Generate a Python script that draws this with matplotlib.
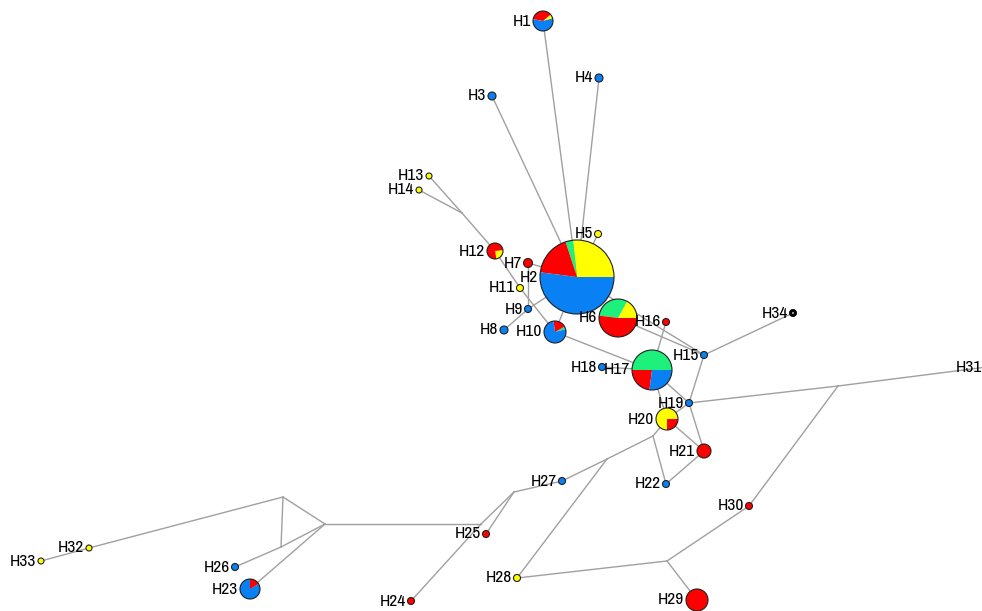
#!/usr/bin/env python
"""
median-joining haplotype network: pie nodes sized by haplotype count,
coloured by population, grey links through median vectors
"""

import matplotlib
matplotlib.use("Agg")
import matplotlib.pyplot as plt
from matplotlib.patches import Circle, Wedge

# haplotype nodes (pixel-style layout, y grows downwards)
names = ["H1", "H2", "H3", "H4", "H5", "H6", "H7", "H8", "H9", "H10",
         "H11", "H12", "H13", "H14", "H15", "H16", "H17", "H18", "H19", "H20",
         "H21", "H22", "H23", "H24", "H25", "H26", "H27", "H28", "H29", "H30",
         "H31", "H32", "H33", "H34"]
node_x = [543, 577, 492, 599, 598, 618, 528, 504, 528, 555,
          520, 495, 429, 419, 704, 666, 652, 602, 689, 667,
          704, 666, 250, 411, 486, 235, 562, 517, 697, 749,
          987, 89, 41, 793]
node_y = [21, 277, 96, 78, 234, 318, 263, 330, 309, 332,
          288, 251, 176, 190, 355, 322, 370, 367, 403, 419,
          451, 484, 589, 601, 534, 567, 481, 578, 600, 506,
          367, 548, 561, 313]
node_r = [10, 37, 4, 4, 3.5, 19, 4.5, 4, 3.5, 11,
          3.5, 8, 3, 3, 3.5, 3.5, 20, 3.5, 3.5, 11,
          7, 3.5, 10, 3.5, 3.5, 3.5, 3.5, 3.5, 11, 3.5,
          3, 3, 3, 3.5]

# population shares per node, in the order yellow, green, red, blue
pop_colors = ["#ffff00", "#1ef07c", "#ff0000", "#0a80f5"]
shares = [
    [0.07, 0, 0.36, 0.57],        # H1
    [0.267, 0.033, 0.18, 0.52],   # H2
    [0, 0, 0, 1],                 # H3
    [0, 0, 0, 1],                 # H4
    [1, 0, 0, 0],                 # H5
    [0.17, 0.31, 0.52, 0],        # H6
    [0, 0, 1, 0],                 # H7
    [0, 0, 0, 1],                 # H8
    [0, 0, 0, 1],                 # H9
    [0, 0.04, 0.19, 0.77],        # H10
    [1, 0, 0, 0],                 # H11
    [0.24, 0, 0.76, 0],           # H12
    [1, 0, 0, 0],                 # H13
    [1, 0, 0, 0],                 # H14
    [0, 0, 0, 1],                 # H15
    [0, 0, 1, 0],                 # H16
    [0, 0.5, 0.23, 0.27],         # H17
    [0, 0, 0, 1],                 # H18
    [0, 0, 0, 1],                 # H19
    [0.75, 0, 0.25, 0],           # H20
    [0, 0, 1, 0],                 # H21
    [0, 0, 0, 1],                 # H22
    [0, 0, 0.167, 0.833],         # H23
    [0, 0, 1, 0],                 # H24
    [0, 0, 1, 0],                 # H25
    [0, 0, 0, 1],                 # H26
    [0, 0, 0, 1],                 # H27
    [1, 0, 0, 0],                 # H28
    [0, 0, 1, 0],                 # H29
    [0, 0, 1, 0],                 # H30
    [0, 0, 0, 1],                 # H31
    [1, 0, 0, 0],                 # H32
    [1, 0, 0, 0],                 # H33
    [0, 0, 0, 0],                 # H34 (no sample, drawn hollow)
]
# angle (degrees, counter-clockwise on screen) where the first slice starts
start_angle = {"H1": 15, "H10": 15, "H12": -80, "H23": 30}

# median vectors
mv_names = ["mv1", "mva", "mvb", "mvc", "mvd", "mve", "mvf", "mvg", "mvh", "mvi"]
mv_x = [462, 283, 325, 281, 481, 514, 607, 667, 838, 653]
mv_y = [213, 497, 524, 547, 524, 492, 459, 561, 386, 436]

links = [
    ("H1", "H2"), ("H3", "H2"), ("H4", "H2"), ("H5", "H2"), ("H7", "H2"),
    ("H9", "H2"), ("H7", "H9"), ("H8", "H9"), ("H2", "H10"), ("H2", "H15"),
    ("H6", "H15"), ("H16", "H17"), ("H13", "mv1"), ("H14", "mv1"),
    ("mv1", "H12"), ("H12", "H11"), ("H11", "H10"), ("H10", "H17"), ("H18", "H17"),
    ("H17", "H19"), ("H17", "H20"), ("H15", "H19"), ("H15", "H34"), ("H19", "H20"),
    ("H19", "H21"), ("H20", "H21"), ("H21", "H22"), ("mvi", "H20"), ("mvi", "H22"),
    ("mvi", "mvf"), ("mvf", "H27"), ("mvf", "H28"), ("H27", "mve"), ("mve", "H25"),
    ("mve", "mvd"), ("mvd", "H24"), ("mvd", "mvb"), ("mvb", "mva"), ("mvb", "mvc"),
    ("mvb", "H23"), ("mva", "mvc"), ("mva", "H32"), ("H32", "H33"), ("mvc", "H26"),
    ("H28", "mvg"), ("mvg", "H29"), ("mvg", "H30"), ("H30", "mvh"), ("mvh", "H19"),
    ("mvh", "H31"),
]

pos = {n: (x, y) for n, x, y in zip(names, node_x, node_y)}
pos.update({n: (x, y) for n, x, y in zip(mv_names, mv_x, mv_y)})

fig = plt.figure(figsize=(9.82, 6.11), dpi=100)
ax = fig.add_axes([0, 0, 1, 1])
ax.set_xlim(0, 982)
ax.set_ylim(611, 0)
ax.axis("off")

for a, b in links:
    (x0, y0), (x1, y1) = pos[a], pos[b]
    ax.plot([x0, x1], [y0, y1], color="#a0a0a0", lw=1.0, zorder=1)

for name, x, y, r, sh in zip(names, node_x, node_y, node_r, shares):
    if sum(sh) == 0:
        ax.add_patch(Circle((x, y), r * 0.7, facecolor="white",
                            edgecolor="black", lw=2.2, zorder=3))
    elif max(sh) == 1:
        ax.add_patch(Circle((x, y), r, facecolor=pop_colors[sh.index(1)],
                            edgecolor="#202020", lw=0.8, zorder=3))
    else:
        t = start_angle.get(name, 0)
        for frac, col in zip(sh, pop_colors):
            if frac == 0:
                continue
            t2 = t + 360 * frac
            # y axis is inverted, so screen angles are mirrored
            ax.add_patch(Wedge((x, y), r, -t2, -t, facecolor=col,
                               edgecolor="none", zorder=3))
            t = t2
        ax.add_patch(Circle((x, y), r, facecolor="none",
                            edgecolor="#202020", lw=0.8, zorder=4))
    ax.text(x - r - 1.5, y, name, ha="right", va="center", fontsize=12.5,
            family=["Archivo Narrow", "Liberation Sans"],
            color="black", zorder=5)

fig.savefig("out.png", dpi=100, facecolor="white")
